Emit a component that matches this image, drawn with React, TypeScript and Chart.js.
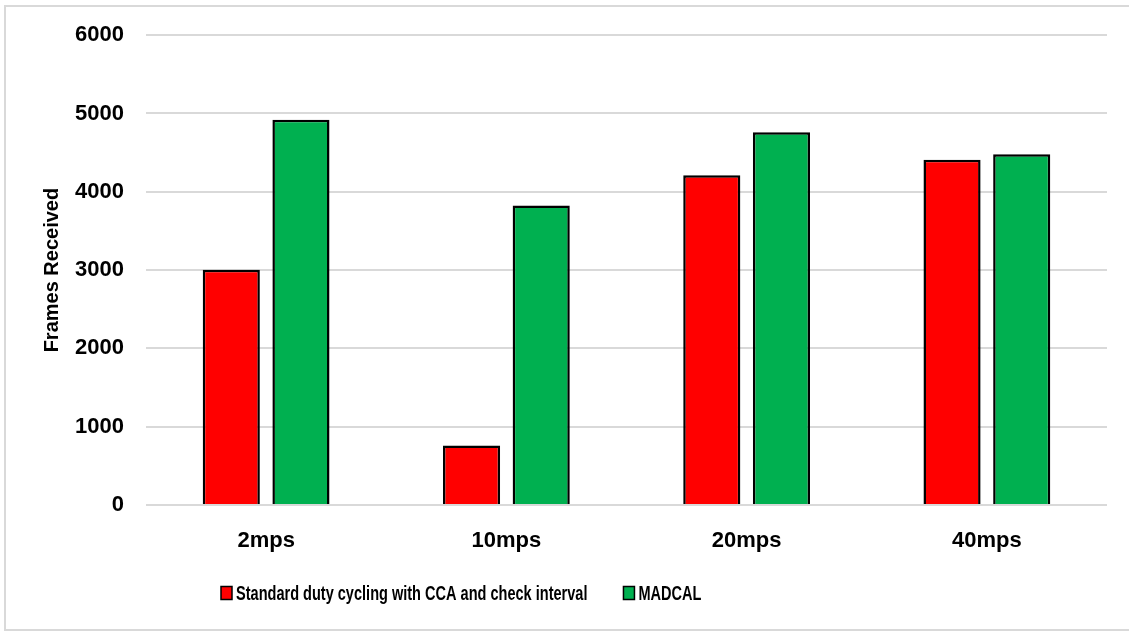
import React, { useEffect, useRef } from "react";
import { Chart, registerables } from "chart.js";

Chart.register(...registerables);

const categories = ["2mps", "10mps", "20mps", "40mps"];
const standardValues = [3005, 760, 4210, 4410];
const madcalValues = [4920, 3825, 4760, 4480];
const seriesNames = ["Standard duty cycling with CCA and check interval", "MADCAL"];
const yTicks = [0, 1000, 2000, 3000, 4000, 5000, 6000];

const RED = "#FF0000";
const GREEN = "#00B050";
const GRID = "#D9D9D9";
const FONT = "'Liberation Sans', Arial, sans-serif";

// Light frame around the whole chart figure
const framePlugin = {
  id: "frame",
  beforeDraw(chart: any) {
    const { ctx } = chart;
    ctx.save();
    ctx.strokeStyle = GRID;
    ctx.lineWidth = 2;
    ctx.strokeRect(5, 6, 1130, 624);
    ctx.restore();
  },
};

// Bottom legend with a tight, horizontally condensed bold face
const legendPlugin = {
  id: "condensedLegend",
  afterDraw(chart: any) {
    const { ctx } = chart;
    const squeeze = 0.727;
    const boxW = 11;
    const boxH = 13;
    const baseline = 599.5;
    const textGap = 4;
    const itemGap = 36;
    let x = 221;
    ctx.save();
    ctx.font = `bold 20px ${FONT}`;
    ctx.textBaseline = "alphabetic";
    ctx.textAlign = "left";
    chart.data.datasets.forEach((ds: any) => {
      ctx.fillStyle = ds.backgroundColor;
      ctx.fillRect(x, baseline - boxH, boxW, boxH);
      ctx.strokeStyle = "#000";
      ctx.lineWidth = 1.5;
      ctx.strokeRect(x, baseline - boxH, boxW, boxH);
      x += boxW + textGap;
      const w = ctx.measureText(ds.label).width * squeeze;
      ctx.save();
      ctx.translate(x, baseline);
      ctx.scale(squeeze, 1);
      ctx.fillStyle = "#000";
      ctx.fillText(ds.label, 0, 0);
      ctx.restore();
      x += w + itemGap;
    });
    ctx.restore();
  },
};

export default function App() {
  const canvasRef = useRef<HTMLCanvasElement | null>(null);

  useEffect(() => {
    if (!canvasRef.current) return;
    const chart = new Chart(canvasRef.current, {
      type: "bar",
      data: {
        labels: categories,
        datasets: [
          {
            label: seriesNames[0],
            data: standardValues,
            backgroundColor: RED,
            borderColor: "#000",
            borderWidth: 2.5,
            categoryPercentage: 0.58,
            barPercentage: 0.82,
          },
          {
            label: seriesNames[1],
            data: madcalValues,
            backgroundColor: GREEN,
            borderColor: "#000",
            borderWidth: 2.5,
            categoryPercentage: 0.58,
            barPercentage: 0.82,
          },
        ],
      },
      options: {
        responsive: false,
        animation: false,
        color: "#000",
        layout: { padding: { left: 30, right: 22, top: 35, bottom: 73 } },
        plugins: {
          tooltip: { enabled: false },
          legend: { display: false },
        },
        scales: {
          x: {
            grid: { display: false, drawTicks: false },
            border: { display: false },
            ticks: {
              color: "#000",
              padding: 23,
              font: { family: FONT, size: 22, weight: "bold" },
            },
            afterFit(scale: any) {
              scale.height = 55;
            },
          },
          y: {
            min: 0,
            max: 6000,
            afterBuildTicks(scale: any) {
              scale.ticks = yTicks.map((v) => ({ value: v }));
            },
            grid: { color: GRID, lineWidth: 2, drawTicks: false },
            border: { display: false },
            ticks: {
              color: "#000",
              padding: 22,
              font: { family: FONT, size: 22, weight: "bold" },
              callback: (v: any) => String(v),
            },
            title: {
              display: true,
              text: "Frames Received",
              color: "#000",
              padding: { top: 10, bottom: 0 },
              font: { family: FONT, size: 20, weight: "bold" },
            },
            afterFit(scale: any) {
              scale.width = 116;
            },
          },
        },
      },
      plugins: [framePlugin, legendPlugin],
    });
    return () => chart.destroy();
  }, []);

  return (
    <div style={{ position: "absolute", left: 0, top: 0, width: 1129, height: 633, background: "#fff" }}>
      <canvas ref={canvasRef} width={1129} height={633} style={{ display: "block" }} />
    </div>
  );
}
